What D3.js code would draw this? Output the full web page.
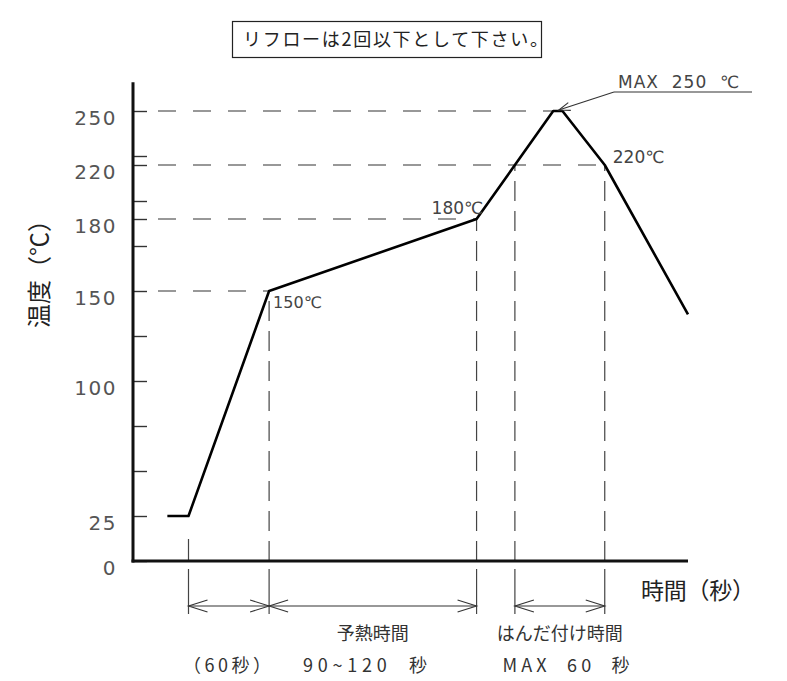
<!DOCTYPE html>
<html>
<head>
<meta charset="utf-8">
<script src="https://cdn.jsdelivr.net/npm/d3@7/dist/d3.min.js"></script>
<style>
  html, body { margin: 0; padding: 0; background: #fff; }
  svg { display: block; }
  text { white-space: pre; }
</style>
</head>
<body>
<svg id="chart" width="787" height="681"></svg>
<script>
// ---------------- data (schematic reflow profile) ----------------
// profile points: time (schematic seconds), temperature (read against the linear axis)
const profileTime = [26, 42, 103, 260, 289, 318, 325, 357, 420];
const profileTemp = [25, 25, 150, 190, 220, 250, 250, 220, 137];

// y axis
const yTickMinor = [0, 25, 50, 75, 100, 125, 150, 175, 190, 200, 220, 225, 250];
const yTickValues = [0, 25, 100, 150, 190, 220, 250];
const yTickLabels = ["0", "25", "100", "150", "180", "220", "250"];
const yAxisTop = 266;
const xAxisEnd = 420;

// horizontal dashed reference levels: temp and where they end (time)
const levelTemp = [150, 190, 220, 250];
const levelEnd  = [103, 260, 357, 318];

// vertical dimension markers: time and temperature where they start
const markerTime = [42, 103, 260, 289, 357];
const markerTemp = [25, 150, 190, 220, 220];

// dimension spans (time)
const spanStart = [42, 103, 289];
const spanEnd   = [103, 260, 357];

// texts
const titleText = "リフローは2回以下として下さい。";
const yTitle = "温度（℃）";
const xTitle = "時間（秒）";
const spanNames = ["", "予熱時間", "はんだ付け時間"];
const spanValues = ["（60秒）", "90~120  秒", "MAX  60  秒"];
const pointLabels = ["150℃", "180℃", "220℃"];
const pointLabelTime = [103, 260, 357];
const pointLabelTemp = [150, 190, 220];
const maxLabel = "MAX  250  ℃";

// ---------------- drawing ----------------
const svg = d3.select("#chart");
const x = d3.scaleLinear().domain([0, 420]).range([133, 688]);
const y = d3.scaleLinear().domain([0, 250]).range([561, 111]);

const digitFont = "'DejaVu Sans', sans-serif";
const jpFont = "'Noto Sans CJK JP', sans-serif";

// title box
svg.append("text")
  .attr("x", 243).attr("y", 46)
  .attr("font-family", jpFont).attr("font-size", 18)
  .attr("fill", "#222")
  .attr("letter-spacing", 1.7)
  .text(titleText);
svg.append("rect")
  .attr("x", 232.5).attr("y", 21.5).attr("width", 309).attr("height", 36)
  .attr("fill", "none").attr("stroke", "#222").attr("stroke-width", 1.2);

// horizontal dashed level lines
svg.append("g").selectAll("line").data(levelTemp).join("line")
  .attr("x1", 158).attr("x2", (d, i) => x(levelEnd[i]))
  .attr("y1", d => y(d)).attr("y2", d => y(d))
  .attr("stroke", "#333").attr("stroke-width", 1.2)
  .attr("stroke-dasharray", "18 17");

// vertical dashed marker lines (above axis), drawn from axis upward
svg.append("g").selectAll("line").data(markerTime).join("line")
  .attr("x1", d => x(d)).attr("x2", d => x(d))
  .attr("y1", y(0)).attr("y2", (d, i) => y(markerTemp[i]))
  .attr("stroke", "#444").attr("stroke-width", 1.2)
  .attr("stroke-dasharray", (d, i) => i === 0 ? "22 100" : "20 10");

// extension lines below axis
svg.append("g").selectAll("line").data(markerTime).join("line")
  .attr("x1", d => x(d)).attr("x2", d => x(d))
  .attr("y1", 569).attr("y2", 614)
  .attr("stroke", "#444").attr("stroke-width", 1.2);

// dimension arrows
function chevron(g, px, py, dir) {
  g.append("path")
    .attr("d", `M${px - dir * 19},${py - 6} L${px},${py} L${px - dir * 19},${py + 6}`)
    .attr("fill", "none").attr("stroke", "#333").attr("stroke-width", 1.1);
}
const dimG = svg.append("g");
spanStart.forEach((s, i) => {
  const x1 = x(s), x2 = x(spanEnd[i]), yy = 606;
  dimG.append("line").attr("x1", x1).attr("x2", x2).attr("y1", yy).attr("y2", yy)
    .attr("stroke", "#333").attr("stroke-width", 1.1);
  chevron(dimG, x1, yy, -1);
  chevron(dimG, x2, yy, 1);
});

// span texts
const valueWidths = [88, 124, 127];
const valueCenters = [227, 365, 566];
spanStart.forEach((s, i) => {
  const cx = (x(s) + x(spanEnd[i])) / 2;
  if (spanNames[i]) {
    svg.append("text").attr("x", cx).attr("y", 640)
      .attr("text-anchor", "middle").attr("font-family", jpFont)
      .attr("font-size", 18).attr("fill", "#333").text(spanNames[i]);
  }
  svg.append("text").attr("x", valueCenters[i]).attr("y", 672)
    .attr("text-anchor", "middle").attr("font-family", jpFont)
    .attr("font-size", 18).attr("fill", "#333")
    .attr("textLength", valueWidths[i]).attr("lengthAdjust", "spacing")
    .text(spanValues[i]);
});

// y ticks (to the right of the axis) via d3 axis
const tickAxis = d3.axisRight(y).tickValues(yTickMinor).tickSize(14).tickFormat("");
const tg = svg.append("g").attr("transform", `translate(${x(0)},0)`).call(tickAxis);
tg.select(".domain").remove();
tg.selectAll(".tick line").attr("stroke", "#333").attr("stroke-width", 1.4);

// y tick labels via d3 axis
const labelAxis = d3.axisLeft(y).tickValues(yTickValues).tickSize(0).tickPadding(16)
  .tickFormat((d, i) => yTickLabels[i]);
const lg = svg.append("g").attr("transform", `translate(${x(0)},0)`).call(labelAxis);
lg.select(".domain").remove();
lg.selectAll(".tick text")
  .attr("font-family", digitFont).attr("font-size", 20)
  .attr("fill", "#555").attr("letter-spacing", 1.5)
  .attr("dy", "0.65em").attr("y", 0);

// axes lines
svg.append("line").attr("x1", x(0)).attr("x2", x(0))
  .attr("y1", y(0) + 1.5).attr("y2", y(yAxisTop))
  .attr("stroke", "#111").attr("stroke-width", 3);
svg.append("line").attr("x1", x(0) - 1.5).attr("x2", x(xAxisEnd))
  .attr("y1", y(0)).attr("y2", y(0))
  .attr("stroke", "#111").attr("stroke-width", 3);

// profile line
const pts = profileTime.map((t, i) => [t, profileTemp[i]]);
const line = d3.line().x(d => x(d[0])).y(d => y(d[1]));
svg.append("path").datum(pts).attr("d", line)
  .attr("fill", "none").attr("stroke", "#000").attr("stroke-width", 2.6)
  .attr("stroke-linejoin", "round").attr("stroke-linecap", "butt");

// point labels
const plOffset = [[4, 17], [-45, -5], [8, -2]];
pointLabels.forEach((t, i) => {
  svg.append("text")
    .attr("x", x(pointLabelTime[i]) + plOffset[i][0])
    .attr("y", y(pointLabelTemp[i]) + plOffset[i][1])
    .attr("font-family", digitFont).attr("font-size", i === 0 ? 16 : 17)
    .attr("fill", "#444").text(t);
});

// MAX 250 leader
const tipX = x(321.5) + 1, tipY = y(250) - 1;
const lx = 614, ly = 92;
svg.append("line").attr("x1", lx).attr("x2", 752).attr("y1", ly).attr("y2", ly)
  .attr("stroke", "#333").attr("stroke-width", 1.2);
svg.append("line").attr("x1", lx).attr("y1", ly).attr("x2", tipX).attr("y2", tipY)
  .attr("stroke", "#333").attr("stroke-width", 1.1);
(function () {
  const ang = Math.atan2(ly - tipY, lx - tipX);
  const L = 12, a = 0.35;
  const p1 = [tipX + L * Math.cos(ang + a), tipY + L * Math.sin(ang + a)];
  const p2 = [tipX + L * Math.cos(ang - a), tipY + L * Math.sin(ang - a)];
  svg.append("path").attr("d", `M${p1} L${tipX},${tipY} L${p2}`)
    .attr("fill", "none").attr("stroke", "#333").attr("stroke-width", 1.1);
})();
svg.append("text").attr("x", 618).attr("y", 88)
  .attr("font-family", digitFont).attr("font-size", 17)
  .attr("fill", "#444").attr("letter-spacing", 1).text(maxLabel);

// axis titles
svg.append("text")
  .attr("transform", "translate(37,268) rotate(-90)")
  .attr("text-anchor", "middle").attr("dominant-baseline", "central")
  .attr("font-family", jpFont).attr("font-size", 24).attr("fill", "#222")
  .text(yTitle);
svg.append("text").attr("x", 641).attr("y", 599)
  .attr("font-family", jpFont).attr("font-size", 23).attr("fill", "#222")
  .attr("textLength", 114).attr("lengthAdjust", "spacing")
  .text(xTitle);
</script>
</body>
</html>
